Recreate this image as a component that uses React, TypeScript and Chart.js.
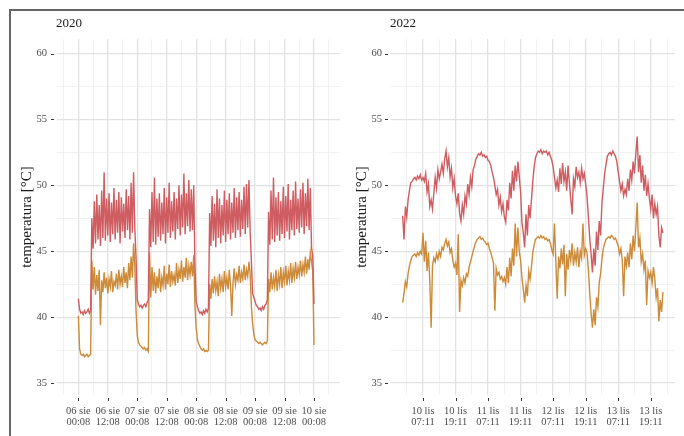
import { useEffect, useRef } from 'react';
import { Chart, registerables } from 'chart.js';

Chart.register(...registerables);

// Readings are spaced every half hour.
const STEP_HOURS = 0.5;

// ---- 2020: hours counted from 06 sie 00:08 ----
const START_2020 = 0;
const TICK_DAYS_2020 = ['06 sie', '06 sie', '07 sie', '07 sie', '08 sie', '08 sie', '09 sie', '09 sie', '10 sie'];
const TICK_TIMES_2020 = ['00:08', '12:08', '00:08', '12:08', '00:08', '12:08', '00:08', '12:08', '00:08'];
const GRID_HOURS_2020 = [-6, 0, 6, 12, 18, 24, 30, 36, 42, 48, 54, 60, 66, 72, 78, 84, 90, 96, 102];

const SUPPLY_2020 = [
  41.4, 40.6, 40.3, 40.4, 40.2, 40.5, 40.3, 40.4, 40.6, 40.3, 40.5,
  47.5, 45.2, 48.8, 45.6, 49.3, 45.9, 48.5, 45.4, 49.6, 46.0, 51.0, 45.8, 49.0, 46.2, 49.4, 45.7, 48.7, 46.3, 49.8,
  45.9, 48.9, 46.4, 49.5, 45.6, 49.1, 46.5, 48.6, 46.0, 49.7, 46.6, 49.2, 45.9, 50.2, 46.4, 51.0, 46.8, 44.5,
  41.3, 41.0, 40.8, 40.9, 40.7, 40.9, 41.0, 40.8, 41.1, 41.3,
  48.2, 45.3, 49.5, 45.7, 50.6, 45.5, 49.0, 46.1, 49.4, 45.8, 48.7, 46.3, 49.8, 45.6, 49.1, 46.4, 50.2, 46.0, 48.8,
  46.5, 49.5, 45.9, 49.0, 46.7, 50.0, 46.2, 49.3, 46.8, 50.9, 46.3, 49.4, 46.9, 50.4, 46.5, 49.7, 46.6, 50.0, 44.0,
  41.2, 40.8, 40.5, 40.3, 40.4, 40.2, 40.5, 40.3, 40.6, 40.4, 40.7,
  47.9, 45.4, 49.2, 45.8, 48.6, 45.3, 49.7, 46.0, 49.0, 45.6, 48.5, 46.2, 49.6, 45.7, 48.9, 46.3, 49.4, 45.9,
  48.7, 46.4, 49.8, 46.0, 49.1, 46.6, 49.5, 46.1, 48.9, 46.7, 49.9, 46.3, 50.1, 46.8, 50.4, 46.5, 44.2,
  41.8, 41.5, 41.2, 40.9, 40.8, 40.6, 40.7, 40.5, 40.8, 40.6, 40.9, 41.0, 41.3,
  48.0, 45.5, 49.6, 45.9, 50.6, 45.7, 49.1, 46.2, 49.5, 45.8, 48.8, 46.3, 49.9, 46.0, 49.2, 46.5, 50.1, 45.9,
  48.9, 46.6, 49.6, 46.2, 50.3, 46.7, 49.0, 46.4, 49.7, 46.8, 50.2, 46.3, 49.4, 46.9, 50.5, 46.6, 49.8,
  45.3, 44.6, 41.0,
];

const RETURN_2020 = [
  40.1, 37.6, 37.2, 37.1, 37.2, 37.0, 37.1, 37.2, 37.0, 37.1, 37.2,
  44.3, 42.1, 43.8, 41.7, 43.2, 42.0, 43.6, 39.4, 42.8, 41.9, 43.4, 42.2, 43.0, 41.8, 42.9, 42.3, 43.5, 41.9, 42.7,
  42.4, 43.3, 42.1, 43.6, 42.5, 43.1, 42.3, 43.8, 42.6, 43.4, 42.2, 44.1, 42.8, 44.6, 43.0, 45.6, 43.9, 40.5,
  38.6, 38.1, 37.9, 37.8, 37.7, 37.6, 37.7, 37.5, 37.6, 37.4,
  44.9, 41.5, 43.8, 42.0, 43.4, 41.8, 43.1, 42.2, 43.7, 41.9, 43.0, 42.4, 43.9, 42.1, 43.3, 42.5, 44.0, 42.3, 43.5,
  42.7, 43.2, 42.4, 44.1, 42.6, 43.6, 42.9, 44.3, 42.7, 43.8, 43.0, 44.5, 42.8, 43.9, 43.2, 44.2, 43.1, 44.7, 40.9,
  39.2, 38.3, 38.0, 37.8, 37.6, 37.5, 37.6, 37.4, 37.5, 37.4, 37.5,
  42.5, 41.4, 42.9, 41.8, 43.1, 42.0, 42.7, 41.6, 43.3, 42.2, 42.9, 41.9, 43.5, 42.3, 43.0, 42.1, 43.6, 42.4,
  40.1, 42.6, 43.7, 42.5, 43.2, 42.8, 43.9, 42.6, 43.4, 42.9, 44.0, 42.8, 43.6, 43.1, 44.2, 43.3, 40.8,
  39.5, 38.7, 38.3, 38.2, 38.1, 38.0, 38.1, 38.0, 37.9, 38.0, 38.1, 38.0, 38.2,
  42.9, 41.9, 43.4, 42.1, 43.0, 42.3, 43.6, 42.0, 43.2, 42.5, 43.8, 42.2, 43.4, 42.7, 43.9, 42.4, 43.5, 42.8,
  44.1, 42.6, 43.7, 43.0, 44.2, 42.9, 43.8, 43.2, 44.3, 43.1, 44.0, 43.4, 44.6, 43.3, 44.4, 43.6, 44.9,
  44.2, 43.5, 37.9,
];

// ---- 2022: hours counted from 10 lis 07:11 ----
const START_2022 = -7.5;
const TICK_DAYS_2022 = ['10 lis', '10 lis', '11 lis', '11 lis', '12 lis', '12 lis', '13 lis', '13 lis'];
const TICK_TIMES_2022 = ['07:11', '19:11', '07:11', '19:11', '07:11', '19:11', '07:11', '19:11'];
const GRID_HOURS_2022 = [-6, 0, 6, 12, 18, 24, 30, 36, 42, 48, 54, 60, 66, 72, 78, 84, 90];

const SUPPLY_2022 = [
  47.7, 45.9, 48.4, 47.6, 48.9,
  49.6, 50.2, 50.3, 50.5,
  50.6, 50.4, 50.7, 50.5, 50.8, 50.4, 50.6,
  50.3, 50.9, 49.5, 50.1, 48.4, 48.9, 48.2,
  49.4, 50.6, 49.8, 51.2, 50.5, 51.0, 51.6, 50.9, 52.0, 52.6,
  51.4, 52.1, 50.6, 51.3, 49.8, 50.5, 49.2, 48.6, 49.4, 47.9, 47.3,
  48.5, 47.8, 49.2, 48.6, 50.1, 49.3, 50.6, 49.9, 51.2, 51.5, 52.0, 52.2,
  52.4, 52.3, 52.5, 52.2, 52.3, 52.1, 52.2, 51.9, 51.8,
  51.5, 51.0, 50.6, 50.0, 49.3, 49.7, 48.5, 49.1, 48.0, 48.6, 47.6, 47.2,
  48.9, 48.1, 50.2, 49.0, 51.1, 49.6, 51.5, 50.3, 51.8, 50.7,
  49.5, 47.2, 46.4, 45.3, 47.8, 46.2, 48.5,
  47.5, 48.9, 50.3, 51.4, 52.1, 52.4,
  52.6, 52.5, 52.7, 52.4, 52.6, 52.5, 52.6, 52.3, 52.5, 52.2, 51.9, 51.4,
  50.6, 49.8, 50.4, 49.5, 51.3, 50.1, 51.7, 50.3, 51.0, 49.6, 51.5, 50.2,
  49.0, 47.8, 50.5, 49.9, 51.4, 50.6, 51.0, 50.2, 51.3, 50.5, 50.9, 50.1,
  49.2, 47.6, 46.0, 44.8, 43.4, 45.2, 43.9, 46.5, 45.1, 47.3, 46.2, 48.6,
  49.8, 50.9, 51.6, 52.2,
  52.4, 52.5, 52.3, 52.6, 52.4, 52.2, 51.8,
  51.0, 50.3, 49.6, 50.1, 49.2, 49.7, 49.3,
  50.5, 49.6, 51.2, 50.4, 51.8, 50.9, 52.4, 53.7,
  51.0, 52.3, 50.2, 51.5, 49.6, 50.8, 49.2, 50.1, 49.0,
  48.2, 49.3, 47.5, 48.6, 47.8, 48.4,
  46.2, 45.3, 46.8, 46.4,
];

const RETURN_2022 = [
  41.1, 41.8, 42.7, 42.3, 43.3,
  43.9, 44.3, 44.6, 44.7,
  44.8, 44.6, 44.9, 44.7, 45.0, 44.8, 46.4,
  44.2, 45.8, 43.5, 44.9, 42.8, 39.2, 43.9,
  44.5, 44.2, 44.8, 44.4, 45.0, 44.6, 45.3, 45.1, 45.6, 45.9,
  45.4, 45.7, 44.9, 45.2, 44.3, 43.8, 44.1, 43.2, 46.3, 40.4, 42.8,
  42.4, 43.0, 42.6, 43.3, 43.1, 43.8, 44.2, 44.6, 45.0, 45.4, 45.7, 45.9,
  46.0, 46.1, 45.9, 46.0, 45.8, 45.7, 45.5, 45.6, 45.2,
  44.9, 44.5, 44.1, 40.5, 43.7, 43.2, 43.4, 42.9, 43.1, 42.7, 43.0, 42.5,
  43.8, 42.6, 44.5, 43.1, 45.2, 43.9, 47.1, 44.6, 46.8, 45.0,
  44.3, 43.0, 42.1, 41.1, 42.4, 41.6, 43.5,
  42.9, 43.8, 44.9, 45.5, 45.9, 46.0,
  46.1, 46.0, 46.2, 46.0, 46.1, 45.9, 46.0, 45.8, 45.9, 45.6, 45.1, 44.8,
  47.1, 44.2, 41.4, 44.6, 43.7, 45.2, 44.0, 45.5, 41.6, 44.8, 43.6, 45.1,
  44.3, 45.6, 43.9, 44.9, 44.2, 45.3, 43.8, 45.0, 44.5, 47.1, 44.7, 45.2,
  44.9, 43.6, 41.8, 40.3, 39.2, 40.6, 39.4, 41.5, 40.8, 42.6, 43.3, 44.4,
  45.2, 45.6, 45.9, 46.0,
  46.1, 46.0, 46.2, 46.1, 45.9, 46.0, 45.7,
  45.4, 44.8, 45.2, 44.3, 41.6, 44.6, 43.9,
  44.9, 43.8, 45.6, 44.4, 46.2, 45.0, 46.8, 48.7,
  45.3, 46.0, 44.2, 44.8, 43.6, 44.3, 40.9, 43.5, 43.0,
  43.4, 42.6, 43.8, 42.9, 41.5, 42.2,
  39.7, 41.3, 40.4, 41.9,
];

// ---- shared temperature axis ----
const Y_TICKS = [35, 37.5, 40, 42.5, 45, 47.5, 50, 52.5, 55, 57.5, 60];
const Y_MIN = 34.1;
const Y_MAX = 61.1;

const SUPPLY_COLOR = '#cf5c60';
const RETURN_COLOR = '#cd8a38';
const SERIF = '"Liberation Serif", "DejaVu Serif", serif';

const toPoints = (values: number[], start: number) =>
  values.map((y, i) => ({ x: start + i * STEP_HOURS, y }));

const isMajor = (v: number, every: number) => Math.abs(v % every) < 1e-9;

// Draws the facet heading and the short detached tick marks of both axes.
const panelDecor = {
  id: 'panelDecor',
  afterDraw(chart: any, _args: any, opts: any) {
    const { ctx, chartArea, scales } = chart;
    ctx.save();
    ctx.fillStyle = '#1a1a1a';
    ctx.font = `13px ${SERIF}`;
    ctx.textBaseline = 'middle';
    ctx.textAlign = 'left';
    ctx.fillText(opts.heading, chartArea.left - 1, 24);

    ctx.strokeStyle = '#333333';
    ctx.lineWidth = 1;
    ctx.beginPath();
    for (const v of Y_TICKS) {
      if (!isMajor(v, 5)) continue;
      const y = Math.round(scales.y.getPixelForValue(v)) + 0.5;
      ctx.moveTo(chartArea.left - 6, y);
      ctx.lineTo(chartArea.left - 3, y);
    }
    for (const h of opts.gridHours) {
      if (!isMajor(h, 12) || h < 0 || h / 12 >= opts.days.length) continue;
      const x = Math.round(scales.x.getPixelForValue(h)) + 0.5;
      ctx.moveTo(x, chartArea.bottom + 3);
      ctx.lineTo(x, chartArea.bottom + 6);
    }
    ctx.stroke();
    ctx.restore();
  },
};

type Panel = {
  heading: string;
  supply: number[];
  ret: number[];
  start: number;
  days: string[];
  times: string[];
  gridHours: number[];
  xMin: number;
  xMax: number;
  yAxisWidth: number;
  padRight: number;
  titleOffset: number;
  labelGap: number;
};

function makeChart(canvas: HTMLCanvasElement, p: Panel) {
  return new Chart(canvas, {
    type: 'line',
    data: {
      datasets: [
        {
          data: toPoints(p.supply, p.start),
          borderColor: SUPPLY_COLOR,
          borderWidth: 1.4,
          pointRadius: 0,
          tension: 0,
        },
        {
          data: toPoints(p.ret, p.start),
          borderColor: RETURN_COLOR,
          borderWidth: 1.4,
          pointRadius: 0,
          tension: 0,
        },
      ],
    },
    plugins: [panelDecor],
    options: {
      responsive: false,
      animation: false,
      events: [],
      layout: { padding: { left: 0, top: 39, right: p.padRight, bottom: 0 } },
      plugins: {
        legend: { display: false },
        tooltip: { enabled: false },
        panelDecor: { heading: p.heading, gridHours: p.gridHours, days: p.days },
      } as any,
      scales: {
        x: {
          type: 'linear',
          min: p.xMin,
          max: p.xMax,
          border: { display: false },
          afterBuildTicks: (s: any) => {
            s.ticks = p.gridHours.map((value) => ({ value }));
          },
          afterFit: (s: any) => {
            s.height = 41;
          },
          grid: {
            drawTicks: false,
            color: (c: any) => (c.tick && isMajor(c.tick.value, 12) ? '#e2e2e2' : '#eeeeee'),
            lineWidth: (c: any) => (c.tick && isMajor(c.tick.value, 12) ? 1.3 : 0.8),
          },
          ticks: {
            autoSkip: false,
            maxRotation: 0,
            minRotation: 0,
            padding: 11,
            color: '#4d4d4d',
            font: { family: SERIF, size: 10.5, lineHeight: 1.05 },
            callback: (value: any) => {
              const v = Number(value);
              if (!isMajor(v, 12) || v < 0) return '';
              const k = v / 12;
              if (k >= p.days.length) return '';
              return [p.days[k], p.times[k]];
            },
          },
        },
        y: {
          type: 'linear',
          min: Y_MIN,
          max: Y_MAX,
          border: { display: false },
          afterBuildTicks: (s: any) => {
            s.ticks = Y_TICKS.map((value) => ({ value }));
          },
          afterFit: (s: any) => {
            s.width = p.yAxisWidth;
          },
          grid: {
            drawTicks: false,
            color: (c: any) => (c.tick && isMajor(c.tick.value, 5) ? '#e2e2e2' : '#eeeeee'),
            lineWidth: (c: any) => (c.tick && isMajor(c.tick.value, 5) ? 1.3 : 0.8),
          },
          ticks: {
            padding: p.labelGap,
            color: '#4d4d4d',
            font: { family: SERIF, size: 10.5 },
            callback: (value: any) => (isMajor(Number(value), 5) ? String(value) : ''),
          },
          title: {
            display: true,
            text: 'temperatura [°C]',
            color: '#1a1a1a',
            font: { family: SERIF, size: 15, lineHeight: 1.2 },
            padding: { top: p.titleOffset, bottom: 0 },
          },
        },
      },
    } as any,
  });
}

export default function App() {
  const leftRef = useRef<HTMLCanvasElement>(null);
  const rightRef = useRef<HTMLCanvasElement>(null);

  useEffect(() => {
    const left = makeChart(leftRef.current!, {
      heading: '2020',
      supply: SUPPLY_2020,
      ret: RETURN_2020,
      start: START_2020,
      days: TICK_DAYS_2020,
      times: TICK_TIMES_2020,
      gridHours: GRID_HOURS_2020,
      xMin: -8.7,
      xMax: 106.6,
      yAxisWidth: 57,
      padRight: 2,
      titleOffset: 18,
      labelGap: 10,
    });
    const right = makeChart(rightRef.current!, {
      heading: '2022',
      supply: SUPPLY_2022,
      ret: RETURN_2022,
      start: START_2022,
      days: TICK_DAYS_2022,
      times: TICK_TIMES_2022,
      gridHours: GRID_HOURS_2022,
      xMin: -11.8,
      xMax: 92.95,
      yAxisWidth: 49,
      padRight: 9,
      titleOffset: 11,
      labelGap: 9,
    });
    return () => {
      left.destroy();
      right.destroy();
    };
  }, []);

  return (
    <div style={{ position: 'absolute', left: 0, top: 0, width: 684, height: 436, background: '#ffffff', overflow: 'hidden' }}>
      <canvas ref={leftRef} width={342} height={436} style={{ position: 'absolute', left: 0, top: 0, width: 342, height: 436 }} />
      <canvas ref={rightRef} width={342} height={436} style={{ position: 'absolute', left: 342, top: 0, width: 342, height: 436 }} />
      <div
        style={{
          position: 'absolute',
          left: 9,
          top: 9,
          width: 700,
          height: 460,
          borderTop: '2px solid #666666',
          borderLeft: '2px solid #666666',
          pointerEvents: 'none',
        }}
      />
    </div>
  );
}
